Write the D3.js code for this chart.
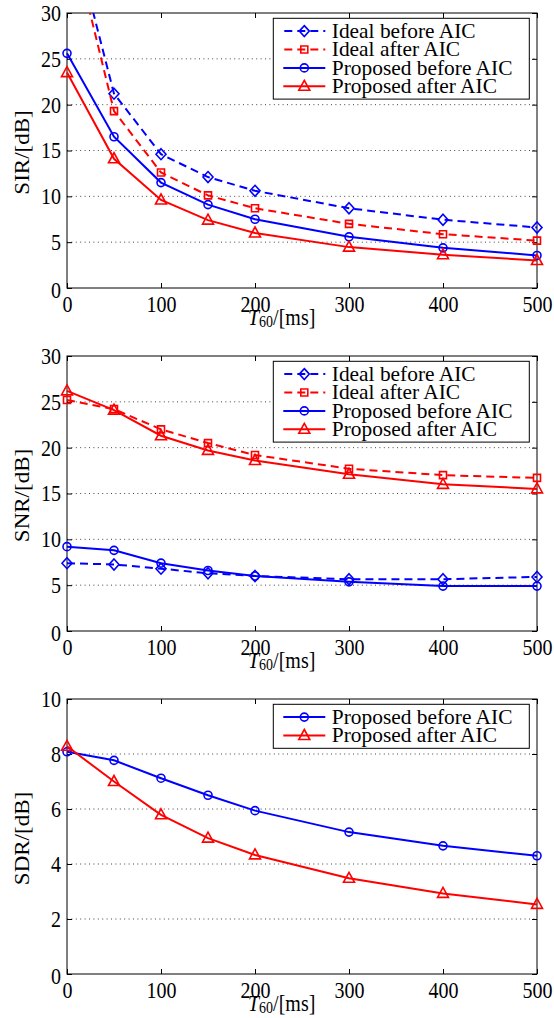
<!DOCTYPE html>
<html>
<head>
<meta charset="utf-8">
<script src="https://cdn.jsdelivr.net/npm/d3@7"></script>
<style>
  body { margin: 0; background: #fff; }
  text { font-family: 'Liberation Serif', 'Times New Roman', serif; fill: #000; }
</style>
</head>
<body>
<div id="chart"></div>
<script>
// data
const T60 = [0, 50, 100, 150, 200, 300, 400, 500];

const sirIdealBefore = [41.2, 21.2, 14.6, 12.1, 10.6, 8.7, 7.45, 6.6];
const sirIdealAfter = [40.3, 19.3, 12.6, 10.1, 8.7, 7.0, 5.87, 5.17];
const sirPropBefore = [25.6, 16.5, 11.5, 9.1, 7.5, 5.58, 4.38, 3.55];
const sirPropAfter = [23.5, 14.1, 9.6, 7.4, 6.0, 4.46, 3.62, 3.0];

const snrIdealBefore = [7.4, 7.26, 6.8, 6.3, 6.0, 5.65, 5.65, 5.9];
const snrIdealAfter = [25.2, 24.2, 22.0, 20.5, 19.2, 17.7, 17.0, 16.7];
const snrPropBefore = [9.2, 8.8, 7.4, 6.6, 6.0, 5.36, 4.9, 4.9];
const snrPropAfter = [26.2, 24.1, 21.3, 19.7, 18.6, 17.1, 16.0, 15.5];

const sdrPropBefore = [8.08, 7.77, 7.12, 6.5, 5.94, 5.16, 4.66, 4.3];
const sdrPropAfter = [8.28, 7.0, 5.79, 4.94, 4.33, 3.48, 2.93, 2.53];

const X_TICKS = [0, 100, 200, 300, 400, 500];
const Y_TICKS_DB30 = [0, 5, 10, 15, 20, 25, 30];
const Y_TICKS_DB10 = [0, 2, 4, 6, 8, 10];

const LEGEND_NAMES = ['Ideal before AIC', 'Ideal after AIC', 'Proposed before AIC', 'Proposed after AIC'];

const WIDTH = 554;
const HEIGHT = 1018;
const PLOT = { LEFT: 67, W: 470, H: 275 };
const TOPS = [13, 356, 699];
const BLUE = '#0000ff';
const RED = '#ff0000';
const FONT = 20;
const STRETCH = 1.15; // glyphs in the original are a bit taller than wide

const svg = d3.select('#chart')
    .append('svg')
    .attr('width', WIDTH)
    .attr('height', HEIGHT);

const x = d3.scaleLinear().domain([0, 500]).range([0, PLOT.W]);

// marker shapes, centered on the data point
function markerPath(type) {
    if (type === 'diamond') return 'M0,-5.5L5,0L0,5.5L-5,0Z';
    if (type === 'square') return 'M-3.5,-3.5H3.5V3.5H-3.5Z';
    if (type === 'triangle') return 'M0,-6L5.5,4H-5.5Z';
    return d3.symbol(d3.symbolCircle, Math.PI * 16)();
}

function drawPanel(idx, yMax, yTicks, yLabel, series) {
    const top = TOPS[idx];
    const y = d3.scaleLinear().domain([0, yMax]).range([PLOT.H, 0]);
    const g = svg.append('g').attr('transform', `translate(${PLOT.LEFT}, ${top})`);

    const clipId = 'clip' + idx;
    g.append('clipPath').attr('id', clipId)
        .append('rect')
        .attr('x', -2).attr('y', 0)
        .attr('width', PLOT.W + 4).attr('height', PLOT.H);

    // horizontal dotted grid
    g.append('g')
        .selectAll('line')
        .data(yTicks.filter(d => d > 0 && d < yMax))
        .enter()
        .append('line')
        .attr('x1', 0).attr('x2', PLOT.W)
        .attr('y1', d => y(d)).attr('y2', d => y(d))
        .attr('stroke', '#444')
        .attr('stroke-width', 1)
        .attr('stroke-dasharray', '1,3.4');

    // axes with inward ticks on all four sides
    const xAxis = g.append('g')
        .attr('transform', `translate(0, ${PLOT.H})`)
        .call(d3.axisBottom(x).tickValues(X_TICKS).tickSize(-5).tickPadding(7).tickSizeOuter(0));
    g.append('g')
        .call(d3.axisTop(x).tickValues(X_TICKS).tickSize(-5).tickFormat('').tickSizeOuter(0));
    const yAxis = g.append('g')
        .call(d3.axisLeft(y).tickValues(yTicks).tickSize(-5).tickPadding(6).tickSizeOuter(0));
    g.append('g')
        .attr('transform', `translate(${PLOT.W}, 0)`)
        .call(d3.axisRight(y).tickValues(yTicks).tickSize(-5).tickFormat('').tickSizeOuter(0));

    g.selectAll('.domain').remove();
    g.selectAll('.tick line').attr('stroke', '#000');
    [xAxis, yAxis].forEach(a => a.selectAll('text')
        .style('font-family', "'Liberation Serif', serif")
        .style('font-size', FONT + 'px')
        .attr('fill', '#000')
        .attr('transform', `scale(1, ${STRETCH})`));
    // y "0" label sits a bit lower in the original
    yAxis.selectAll('.tick').filter(d => d === 0).select('text').attr('y', 2);

    g.append('rect')
        .attr('width', PLOT.W).attr('height', PLOT.H)
        .attr('fill', 'none').attr('stroke', '#000').attr('stroke-width', 1);

    // series lines and markers
    const line = d3.line().x((d, i) => x(T60[i])).y(d => y(d));
    series.forEach(s => {
        g.append('path')
            .datum(s.values)
            .attr('clip-path', `url(#${clipId})`)
            .attr('d', line)
            .attr('fill', 'none')
            .attr('stroke', s.color)
            .attr('stroke-width', 2)
            .attr('stroke-dasharray', s.dashed ? '8,5' : null);

        g.append('g')
            .selectAll('path')
            .data(s.values.map((v, i) => [T60[i], v]).filter(p => p[1] <= yMax))
            .enter()
            .append('path')
            .attr('transform', p => `translate(${x(p[0])}, ${y(p[1])})`)
            .attr('d', markerPath(s.marker))
            .attr('fill', 'none')
            .attr('stroke', s.color)
            .attr('stroke-width', 1.6);
    });

    // legend
    const lx = 206.3;
    const ly = 5.3;
    const rowH = 18.4;
    const pad = 12.8;
    const leg = g.append('g').attr('transform', `translate(${lx}, ${ly})`);
    leg.append('rect')
        .attr('width', 256)
        .attr('height', pad * 2 + rowH * (series.length - 1))
        .attr('fill', '#fff').attr('stroke', '#000').attr('stroke-width', 1);
    series.forEach((s, i) => {
        const cy = pad + i * rowH;
        leg.append('line')
            .attr('x1', 10).attr('x2', 52)
            .attr('y1', cy).attr('y2', cy)
            .attr('stroke', s.color).attr('stroke-width', 2)
            .attr('stroke-dasharray', s.dashed ? '8,5' : null)
            .attr('stroke-dashoffset', s.dashed ? -1 : null);
        leg.append('path')
            .attr('transform', `translate(31, ${cy})`)
            .attr('d', markerPath(s.marker))
            .attr('fill', 'none').attr('stroke', s.color).attr('stroke-width', 1.6);
        leg.append('text')
            .attr('x', 58.5).attr('y', cy + 7)
            .style('font-size', '21.4px')
            .text(s.name);
    });

    // axis labels
    const xl = svg.append('text')
        .attr('transform', `translate(248, ${top + PLOT.H + 37}) scale(1, ${STRETCH})`)
        .style('font-size', FONT + 'px');
    xl.append('tspan').style('font-style', 'italic').text('T');
    xl.append('tspan').attr('dy', 2).style('font-size', '14px').text('60');
    xl.append('tspan').attr('dy', -2).text('/[ms]');

    svg.append('text')
        .attr('transform', `translate(29, ${top + PLOT.H / 2 + 2}) rotate(-90) scale(${STRETCH}, 1)`)
        .attr('text-anchor', 'middle')
        .style('font-size', FONT + 'px')
        .text(yLabel);
}

const styles = [
    { color: BLUE, dashed: true, marker: 'diamond' },
    { color: RED, dashed: true, marker: 'square' },
    { color: BLUE, dashed: false, marker: 'circle' },
    { color: RED, dashed: false, marker: 'triangle' }
];

drawPanel(0, 30, Y_TICKS_DB30, 'SIR/[dB]',
    [sirIdealBefore, sirIdealAfter, sirPropBefore, sirPropAfter]
        .map((v, i) => Object.assign({ name: LEGEND_NAMES[i], values: v }, styles[i])));

drawPanel(1, 30, Y_TICKS_DB30, 'SNR/[dB]',
    [snrIdealBefore, snrIdealAfter, snrPropBefore, snrPropAfter]
        .map((v, i) => Object.assign({ name: LEGEND_NAMES[i], values: v }, styles[i])));

drawPanel(2, 10, Y_TICKS_DB10, 'SDR/[dB]',
    [sdrPropBefore, sdrPropAfter]
        .map((v, i) => Object.assign({ name: LEGEND_NAMES[i + 2], values: v }, styles[i + 2])));
</script>
</body>
</html>
